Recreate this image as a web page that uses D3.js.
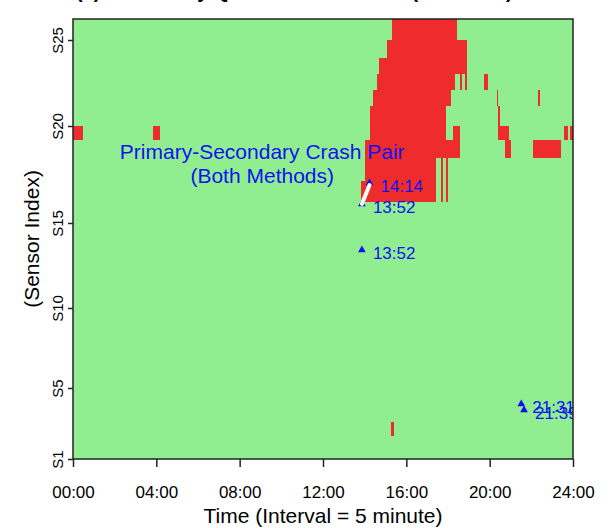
<!DOCTYPE html>
<html>
<head>
<meta charset="utf-8">
<script src="https://cdn.jsdelivr.net/npm/d3@7"></script>
<style>
  body { margin: 0; background: #fff; }
  text { font-family: "Liberation Sans", Arial, Helvetica, sans-serif; }
</style>
</head>
<body>
<div id="map"></div>
<script>
// sensor locations along the freeway (mile), S1 .. S26
const sensorMile = [0, 1.15, 1.85, 2.7, 3.55, 4.35, 5.15, 5.95, 6.75, 7.55,
    8.4, 9.25, 10.1, 10.95, 11.8, 12.85, 13.9, 15.05, 15.95, 16.65,
    17.65, 18.45, 19.25, 20.05, 20.95, 22.0];
const yTickSensors = [1, 5, 10, 15, 20, 25];

const xTickHours = [0, 4, 8, 12, 16, 20, 24];
const xTickLabels = ["00:00", "04:00", "08:00", "12:00", "16:00", "20:00", "24:00"];

// congested cells: [sensor, first interval, end interval], 5 minute intervals (288 a day)
const congestion = [
    [25, 184, 221],
    [24, 181, 227],
    [23, 176, 227],
    [22, 175, 220], [22, 223, 224], [22, 226, 227], [22, 237, 239],
    [21, 173, 218], [21, 244, 245], [21, 268, 269],
    [20, 171, 215], [20, 245, 246],
    [19, 0, 6], [19, 46, 50], [19, 171, 215], [19, 219, 223], [19, 245, 251], [19, 283, 285], [19, 286, 288],
    [18, 168, 223], [18, 249, 252], [18, 265, 281],
    [17, 168, 209], [17, 212, 213], [17, 215, 216],
    [16, 166, 209], [16, 212, 213], [16, 215, 216],
    [2, 183, 185]
];

// crashes
const crashTimes = ["14:14", "13:52", "13:52", "21:31", "21:39"];
const crashMiles = [13.8, 12.75, 10.45, 2.75, 2.45];
const pairCrashes = [0, 1];

const noteLines = ["Primary-Secondary Crash Pair", "(Both Methods)"];
const noteInterval = 109, noteMile = 15.0;

var margin = { top: 19, right: 38, bottom: 69, left: 73 },
    width = 611 - margin.left - margin.right,
    height = 528 - margin.top - margin.bottom;

var svg = d3.select("#map")
    .append("svg")
    .attr("width", width + margin.left + margin.right)
    .attr("height", height + margin.top + margin.bottom)
    .style("display", "block");

// title (mostly cut off at the top)
svg.append("text")
    .attr("x", 76)
    .attr("y", -2)
    .style("font-size", "20px")
    .style("font-weight", "bold")
    .text("(a) Secondary Queue Identification (Method 1)");

var g = svg.append("g")
    .attr("transform", "translate(" + margin.left + "," + margin.top + ")");

var x = d3.scaleLinear().domain([0, 288]).range([0, width]);
var y = d3.scaleLinear().domain([sensorMile[0], sensorMile[sensorMile.length - 1]]).range([height, 0]);

g.append("clipPath").attr("id", "plotclip")
    .append("rect").attr("width", width).attr("height", height);

var plot = g.append("g").attr("clip-path", "url(#plotclip)");

plot.append("rect")
    .attr("width", width)
    .attr("height", height)
    .attr("fill", "#90ee90");

plot.selectAll("rect.cell")
    .data(congestion)
    .enter().append("rect")
    .attr("class", "cell")
    .attr("x", function (d) { return x(d[1]); })
    .attr("width", function (d) { return x(d[2]) - x(d[1]); })
    .attr("y", function (d) { return y(sensorMile[d[0]]); })
    .attr("height", function (d) { return y(sensorMile[d[0] - 1]) - y(sensorMile[d[0]]); })
    .attr("fill", "#ee2c2c")
    .attr("shape-rendering", "crispEdges");

function toInterval(t) {
    var p = t.split(":");
    return (+p[0] * 60 + +p[1]) / 5;
}

var crashes = crashTimes.map(function (t, i) {
    return { time: t, cx: x(toInterval(t)), cy: y(crashMiles[i]) };
});

// crash markers
plot.selectAll("path.crash")
    .data(crashes)
    .enter().append("path")
    .attr("class", "crash")
    .attr("d", d3.symbol().type(d3.symbolTriangle).size(26))
    .attr("transform", function (d) { return "translate(" + d.cx + "," + d.cy + ")"; })
    .attr("fill", "#1010f0");

// primary-secondary link
var a = crashes[pairCrashes[0]], b = crashes[pairCrashes[1]];
plot.append("line")
    .attr("x1", a.cx).attr("y1", a.cy + 2)
    .attr("x2", b.cx).attr("y2", b.cy)
    .attr("stroke", "#fff")
    .attr("stroke-width", 4)
    .attr("stroke-linecap", "round");

plot.selectAll("text.crash")
    .data(crashes)
    .enter().append("text")
    .attr("class", "crash")
    .attr("x", function (d) { return d.cx + 11; })
    .attr("y", function (d) { return d.cy + 9; })
    .attr("fill", "#1010f0")
    .style("font-size", "17px")
    .text(function (d) { return d.time; });

plot.selectAll("text.note")
    .data(noteLines)
    .enter().append("text")
    .attr("class", "note")
    .attr("x", x(noteInterval))
    .attr("y", function (d, i) { return y(noteMile) + i * 24; })
    .attr("text-anchor", "middle")
    .attr("fill", "#1010f0")
    .style("font-size", "21px")
    .text(function (d) { return d; });

// X axis
var xAxis = g.append("g")
    .attr("transform", "translate(0," + height + ")")
    .call(d3.axisBottom(x)
        .tickValues(xTickHours.map(function (h) { return h * 12; }))
        .tickFormat(function (d, i) { return xTickLabels[i]; })
        .tickSize(8)
        .tickSizeOuter(0));
xAxis.select(".domain").remove();
xAxis.selectAll("line").attr("stroke", "#222").attr("stroke-width", 1.5);
xAxis.selectAll("text")
    .attr("y", 39)
    .attr("dy", null)
    .attr("fill", "#000")
    .style("font-size", "17px");

// Y axis
var yAxis = g.append("g")
    .call(d3.axisLeft(y)
        .tickValues(yTickSensors.map(function (s) { return sensorMile[s - 1]; }))
        .tickFormat(function (d, i) { return "S" + yTickSensors[i]; })
        .tickSize(5)
        .tickSizeOuter(0));
yAxis.select(".domain").remove();
yAxis.selectAll("line").attr("stroke", "#222").attr("stroke-width", 1.5);
yAxis.selectAll("text")
    .attr("x", null)
    .attr("dy", null)
    .attr("transform", "translate(-10,0)rotate(-90)")
    .attr("text-anchor", "middle")
    .attr("fill", "#000")
    .style("font-size", "15px");

// frame
g.append("rect")
    .attr("width", width)
    .attr("height", height)
    .attr("fill", "none")
    .attr("stroke", "#222")
    .attr("stroke-width", 1.5);

// axis titles
svg.append("text")
    .attr("x", margin.left + width / 2)
    .attr("y", 523)
    .attr("text-anchor", "middle")
    .style("font-size", "21px")
    .text("Time (Interval = 5 minute)");

svg.append("text")
    .attr("transform", "translate(39," + (margin.top + height / 2) + ")rotate(-90)")
    .attr("text-anchor", "middle")
    .style("font-size", "21px")
    .text("(Sensor Index)");
</script>
</body>
</html>
